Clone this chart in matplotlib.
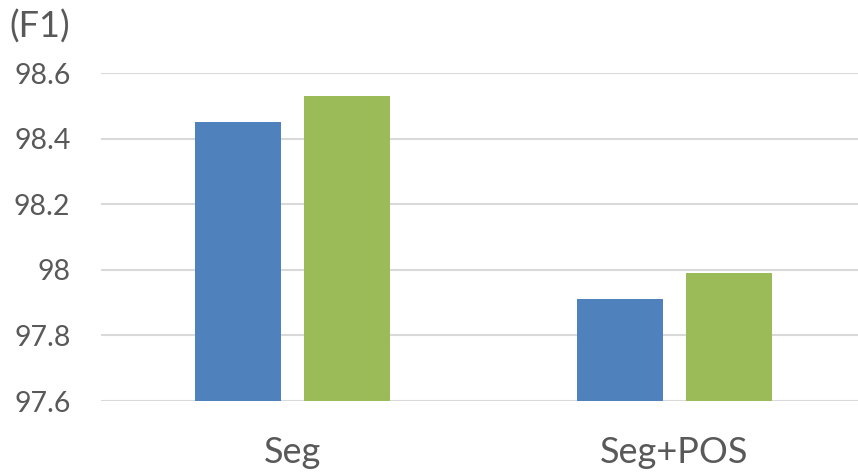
import matplotlib.pyplot as plt
import numpy as np

categories = ["Seg", "Seg+POS"]
series_a = [98.45, 97.91]
series_b = [98.53, 97.99]
y_ticks = [97.6, 97.8, 98.0, 98.2, 98.4, 98.6]
y_tick_labels = ["97.6", "97.8", "98", "98.2", "98.4", "98.6"]

plt.rcParams['font.family'] = ['Lato', 'DejaVu Sans']
text_color = "#595959"

fig = plt.figure(figsize=(8.58, 4.72), dpi=100)
ax = fig.add_axes([101 / 858, 1 - 401 / 472, 764.5 / 858, 328 / 472])

x = np.arange(len(categories))
width = 0.225
offset = 0.1427
ax.bar(x - offset, series_a, width, bottom=0, color="#4f81bd", zorder=3)
ax.bar(x + offset, series_b, width, bottom=0, color="#9bbb59", zorder=3)

ax.set_xlim(-0.5, 1.5)
ax.set_ylim(97.6, 98.6)
ax.set_yticks(y_ticks)
ax.set_yticklabels(y_tick_labels)
ax.set_xticks(x)
ax.set_xticklabels(categories)

ax.grid(axis="y", color="#d9d9d9", linewidth=1.5, zorder=0)
ax.set_axisbelow(True)
for s in ax.spines.values():
    s.set_visible(False)
ax.tick_params(axis="both", length=0, colors=text_color)
ax.tick_params(axis="y", pad=22, labelsize=20.5)
ax.tick_params(axis="x", pad=25, labelsize=26)
for lbl in ax.get_yticklabels() + ax.get_xticklabels():
    lbl.set_color(text_color)

fig.text(9 / 858, 1 - 27 / 472, "(F1)", fontsize=26, color=text_color,
         ha="left", va="center")

fig.savefig("out.png", dpi=100)
